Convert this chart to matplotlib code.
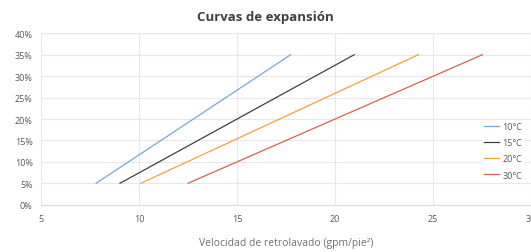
import matplotlib
matplotlib.use('Agg')
import matplotlib.pyplot as plt
from matplotlib.ticker import PercentFormatter

# Expansion curves: backwash velocity at 5% and 35% bed expansion
expansion = [5, 35]
v_10c = [7.81, 17.74]
v_15c = [9.03, 20.98]
v_20c = [10.10, 24.25]
v_30c = [12.50, 27.52]

labels = ['10°C', '15°C', '20°C', '30°C']
colors = ['#7aa6d6', '#404040', '#f5a03a', '#d8604c']
x_ticks = [5, 10, 15, 20, 25, 30]
y_ticks = [0, 5, 10, 15, 20, 25, 30, 35, 40]

plt.rcParams['font.family'] = ['Open Sans', 'DejaVu Sans']

fig = plt.figure(figsize=(5.31, 2.53), dpi=100)
ax = fig.add_axes([41 / 531, 47.3 / 253, 490 / 531, 171.4 / 253])

for v, lab, c in zip([v_10c, v_15c, v_20c, v_30c], labels, colors):
    ax.plot(v, expansion, color=c, lw=0.9, label=lab)

ax.set_xlim(5, 30)
ax.set_ylim(0, 40)
ax.set_xticks(x_ticks)
ax.set_yticks(y_ticks)
ax.yaxis.set_major_formatter(PercentFormatter(decimals=0))
ax.grid(True, color='#e8e8e8', lw=0.8)
ax.set_axisbelow(True)
for s in ax.spines.values():
    s.set_visible(False)
ax.spines['bottom'].set_visible(True)
ax.spines['bottom'].set_color('#d9d9d9')
ax.tick_params(length=0, labelsize=6.5, colors='#595959', pad=6)
ax.tick_params(axis='x', pad=7)

ax.set_xlabel('Velocidad de retrolavado (gpm/pie²)', fontsize=7.5,
              color='#707070', labelpad=10)
fig.text(0.5, 0.93, 'Curvas de expansión', ha='center', va='center',
         fontsize=9.5, fontweight='bold', color='#404040')

leg = ax.legend(loc='center right', bbox_to_anchor=(0.995, 0.315), fontsize=6.5,
                frameon=True, facecolor='white', edgecolor='none', framealpha=1,
                handlelength=1.6, handletextpad=0.4, labelspacing=0.8,
                borderpad=0.2)
for t in leg.get_texts():
    t.set_color('#595959')

fig.savefig('out.png', dpi=100)
